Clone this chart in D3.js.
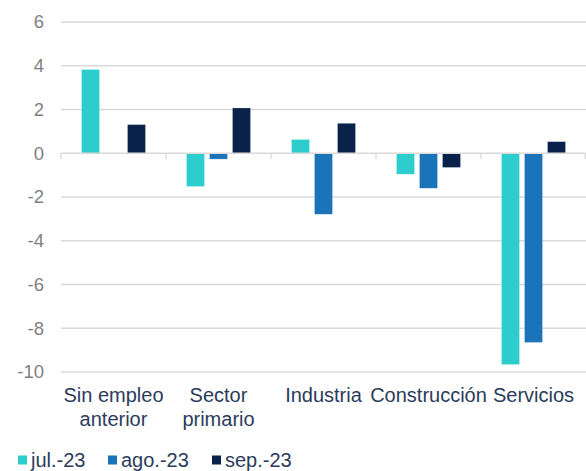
<!DOCTYPE html>
<html>
<head>
<meta charset="utf-8">
<script src="https://cdn.jsdelivr.net/npm/d3@7"></script>
<style>
  body { margin: 0; background: #fff; }
  svg { display: block; font-family: "Liberation Sans", Arial, sans-serif; }
</style>
</head>
<body>
<div id="chart"></div>
<script>
// data
const categories = ["Sin empleo anterior", "Sector primario", "Industria", "Construcción", "Servicios"];
const labelLines = [["Sin empleo", "anterior"], ["Sector", "primario"], ["Industria"], ["Construcción"], ["Servicios"]];
const seriesNames = ["jul.-23", "ago.-23", "sep.-23"];
const julValues = [3.83, -1.52, 0.63, -0.96, -9.66];
const agoValues = [0.0, -0.27, -2.79, -1.60, -8.65];
const sepValues = [1.31, 2.07, 1.37, -0.65, 0.53];
const yTicks = [6, 4, 2, 0, -2, -4, -6, -8, -10];
const colors = ["#2ecdcd", "#1b73b9", "#0a2249"];

const seriesValues = [julValues, agoValues, sepValues];

const width = 586, height = 471;
const margin = {top: 22, right: 0, bottom: 99, left: 61};

const svg = d3.select("#chart").append("svg")
    .attr("width", width)
    .attr("height", height);

const x0 = d3.scaleBand()
    .domain(categories)
    .range([margin.left, width - margin.right]);

const x1 = d3.scaleBand()
    .domain(seriesNames)
    .range([20.5, 84.5])
    .paddingInner(0.217);

const y = d3.scaleLinear()
    .domain([-10, 6])
    .range([height - margin.bottom, margin.top]);

// gridlines
svg.append("g").selectAll("line").data(yTicks.filter(d => d !== 0))
    .enter().append("line")
    .attr("x1", margin.left)
    .attr("x2", width - margin.right)
    .attr("y1", d => y(d))
    .attr("y2", d => y(d))
    .attr("stroke", "#d9d9d9")
    .attr("stroke-width", 1.3);

// y tick labels
svg.append("g").selectAll("text").data(yTicks)
    .enter().append("text")
    .attr("x", 44)
    .attr("y", d => y(d))
    .attr("dy", "0.35em")
    .attr("text-anchor", "end")
    .attr("fill", "#7f7f7f")
    .style("font-size", "18.5px")
    .text(d => d);

// bars
const groups = svg.append("g").selectAll("g").data(categories)
    .enter().append("g")
    .attr("transform", d => "translate(" + x0(d) + ",0)");

groups.selectAll("rect")
    .data((d, i) => seriesNames.map((s, j) => ({series: s, value: seriesValues[j][i], k: j})))
    .enter().append("rect")
    .attr("x", d => x1(d.series))
    .attr("width", x1.bandwidth())
    .attr("y", d => y(Math.max(0, d.value)))
    .attr("height", d => Math.abs(y(d.value) - y(0)))
    .attr("fill", d => colors[d.k])
    .attr("stroke", "#ffffff")
    .attr("stroke-opacity", 0.4)
    .attr("stroke-width", 0.6);

// zero axis line with category ticks
svg.append("line")
    .attr("x1", margin.left)
    .attr("x2", width)
    .attr("y1", y(0))
    .attr("y2", y(0))
    .attr("stroke", "#d9d9d9")
    .attr("stroke-width", 1.3);

const boundaries = categories.map(c => x0(c)).concat([x0(categories[categories.length - 1]) + x0.bandwidth()]);
svg.append("g").selectAll("line").data(boundaries)
    .enter().append("line")
    .attr("x1", d => Math.min(d, width - 0.7))
    .attr("x2", d => Math.min(d, width - 0.7))
    .attr("y1", y(0))
    .attr("y2", y(0) + 6)
    .attr("stroke", "#d9d9d9")
    .attr("stroke-width", 1.3);

// category labels
const labels = svg.append("g").selectAll("text").data(categories)
    .enter().append("text")
    .attr("x", d => x0(d) + x0.bandwidth() / 2)
    .attr("y", 402)
    .attr("text-anchor", "middle")
    .attr("fill", "#2b3b5b")
    .style("font-size", "20px");

labels.each(function (d, i) {
    d3.select(this).selectAll("tspan").data(labelLines[i])
        .enter().append("tspan")
        .attr("x", x0(d) + x0.bandwidth() / 2)
        .attr("dy", (t, j) => j === 0 ? 0 : 23.5)
        .text(t => t);
});

// legend
const legendX = [18, 108, 212];
const legend = svg.append("g").selectAll("g").data(seriesNames)
    .enter().append("g")
    .attr("transform", (d, i) => "translate(" + legendX[i] + ",460)");

legend.append("rect")
    .attr("x", 0)
    .attr("y", -4.5)
    .attr("width", 9)
    .attr("height", 9)
    .attr("fill", (d, i) => colors[i]);

legend.append("text")
    .attr("x", 13)
    .attr("y", 0)
    .attr("dy", "0.35em")
    .attr("fill", "#2b3b5b")
    .style("font-size", "20px")
    .text(d => d);
</script>
</body>
</html>
